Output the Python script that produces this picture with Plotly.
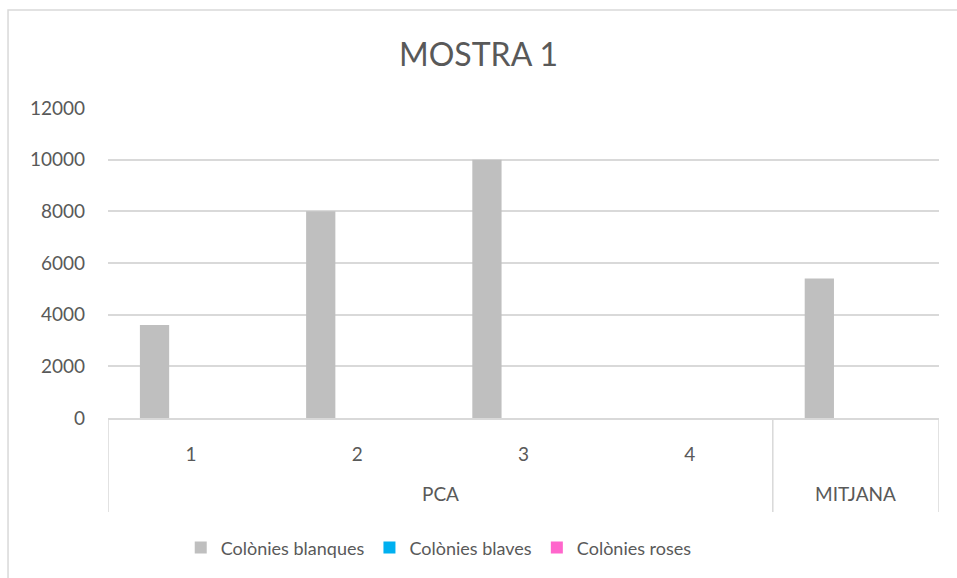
import plotly.graph_objects as go

# Plate counts: four PCA plates plus their average
plates = ["1", "2", "3", "4", "MITJANA"]
plate_labels = ["1", "2", "3", "4", ""]
group_labels = ["PCA", "MITJANA"]
group_spans = [(0, 3), (4, 4)]          # first/last plate index of each group

white_colonies = [3600, 8000, 10000, 0, 5400]
blue_colonies = [0, 0, 0, 0, 0]
pink_colonies = [0, 0, 0, 0, 0]

series_names = ["Colònies blanques", "Colònies blaves", "Colònies roses"]
series_colors = ["#bfbfbf", "#00b0f0", "#ff66cc"]

y_ticks = [0, 2000, 4000, 6000, 8000, 10000, 12000]

FONT = "Lato"
TEXT = "#595959"
LINE = "#d9d9d9"

fig = go.Figure()
for name, vals, col in zip(series_names,
                           [white_colonies, blue_colonies, pink_colonies],
                           series_colors):
    fig.add_trace(go.Bar(x=plates, y=vals, name=name,
                         marker=dict(color=col, line=dict(width=0))))

fig.update_layout(
    width=957, height=578,
    margin=dict(l=108, r=18, t=108, b=160),
    paper_bgcolor="white", plot_bgcolor="white",
    font=dict(family=FONT, color=TEXT, size=19),
    title=dict(text="MOSTRA 1", x=0.5, xanchor="center", y=0.905, yanchor="middle",
               font=dict(family=FONT, size=32, color=TEXT)),
    barmode="group", bargap=0.34, bargroupgap=0.2,
    showlegend=True,
    legend=dict(orientation="h", x=0.398, xanchor="center", y=-0.419, yanchor="middle",
                font=dict(family=FONT, size=18, color=TEXT),
                itemwidth=30, traceorder="normal"),
    yaxis=dict(range=[0, 12000], tickvals=y_ticks, ticktext=[str(v) for v in y_ticks],
               showgrid=True, gridcolor=LINE, gridwidth=1.5, zeroline=False,
               showline=False, ticks="", ticklabelstandoff=22,
               tickfont=dict(size=19, color=TEXT)),
    xaxis=dict(type="category", range=[-0.5, len(plates) - 0.5],
               tickvals=plates, ticktext=plate_labels,
               showline=True, linecolor=LINE, linewidth=1.5,
               ticks="", ticklabelstandoff=18, showgrid=False,
               tickfont=dict(size=19, color=TEXT)),
)

# group separators under the category axis
divider_bottom = -0.303
for pos in [-0.5, 3.5, 4.5]:
    fig.add_shape(type="line", xref="x", yref="paper", x0=pos, x1=pos,
                  y0=0, y1=divider_bottom, line=dict(color=LINE, width=1.5))

# outer category labels
for label, (a, b) in zip(group_labels, group_spans):
    fig.add_annotation(x=(a + b) / 2, xref="x", y=-0.245, yref="paper",
                       text=label, showarrow=False, xanchor="center", yanchor="middle",
                       font=dict(family=FONT, size=19, color=TEXT))

# chart frame
fig.add_shape(type="rect", xref="paper", yref="paper",
              x0=-0.1203, x1=1.2, y0=-0.8, y1=1.316,
              line=dict(color=LINE, width=1.5), fillcolor="rgba(0,0,0,0)", layer="below")

fig.write_html("out.html")
